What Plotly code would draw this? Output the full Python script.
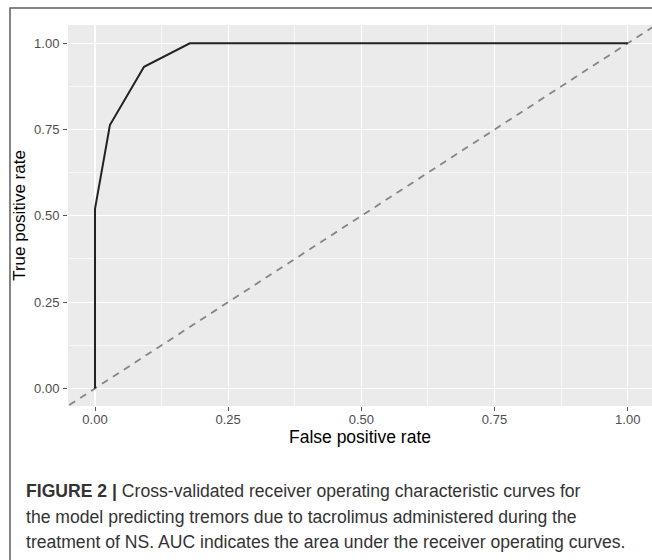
import plotly.graph_objects as go

# ---- data ----
fpr = [0.0, 0.0, 0.028, 0.092, 0.178, 1.0]
tpr = [0.0, 0.52, 0.763, 0.932, 1.0, 1.0]
ref_intercept = 0.0
ref_slope = 1.0
tick_vals = [0.0, 0.25, 0.50, 0.75, 1.00]
tick_text = ["0.00", "0.25", "0.50", "0.75", "1.00"]
x_title = "False positive rate"
y_title = "True positive rate"
caption_lines = [
    "<b>FIGURE 2 |</b> Cross-validated receiver operating characteristic curves for",
    "the model predicting tremors due to tacrolimus administered during the",
    "treatment of NS. AUC indicates the area under the receiver operating curves.",
]

W, H = 652, 560
ML, MR, MT, MB = 68, 0, 25, 154
PW = W - ML - MR
PH = H - MT - MB
XR = [-0.0507, 1.0456]
YR = [-0.051, 1.053]


def px(x):
    return (x - ML) / PW


def py(y):
    return (H - MB - y) / PH


fig = go.Figure()

# reference diagonal over full axis range
ref_x = [XR[0] - 0.1, XR[1] + 0.1]
ref_y = [ref_intercept + ref_slope * v for v in ref_x]
fig.add_trace(go.Scatter(x=ref_x, y=ref_y, mode="lines",
                         line=dict(color="#858585", width=1.8, dash="7px,6px"),
                         hoverinfo="skip", showlegend=False))

fig.add_trace(go.Scatter(x=fpr, y=tpr, mode="lines",
                         line=dict(color="#222222", width=2),
                         showlegend=False))

font_fam = "Liberation Sans, Arial, sans-serif"
axis_common = dict(
    tickmode="array", tickvals=tick_vals, ticktext=tick_text,
    showgrid=True, gridcolor="white", gridwidth=1.2,
    zeroline=False, showline=False,
    ticks="outside", ticklen=4, tickwidth=1, tickcolor="#555555",
    tickfont=dict(family=font_fam, size=13, color="#4d4d4d"),
    minor=dict(dtick=0.125, tick0=0, showgrid=True, gridcolor="white", gridwidth=0.6, ticks=""),
    fixedrange=True,
)

fig.update_layout(
    width=W, height=H,
    margin=dict(l=ML, r=MR, t=MT, b=MB, autoexpand=False),
    paper_bgcolor="white", plot_bgcolor="#ebebeb",
    showlegend=False,
    xaxis=dict(range=XR, title=dict(text=x_title, font=dict(family=font_fam, size=17.5, color="black"), standoff=2),
               ticklabelstandoff=-3, automargin=False, **axis_common),
    yaxis=dict(range=YR, title=dict(text=y_title, font=dict(family=font_fam, size=17, color="black"), standoff=4),
               ticklabelstandoff=1, automargin=False, **axis_common),
)

# frame around figure (top + left visible)
fig.add_shape(type="rect", xref="paper", yref="paper",
              x0=px(10), x1=px(W + 10), y0=py(H + 10), y1=py(8),
              line=dict(color="#5e5e5e", width=1.5), fillcolor="rgba(0,0,0,0)", layer="above")

# caption
cap_y = [491, 517, 542]
for txt, yy in zip(caption_lines, cap_y):
    fig.add_annotation(text=txt, xref="paper", yref="paper", x=px(24), y=py(yy),
                       xanchor="left", yanchor="middle", showarrow=False,
                       font=dict(family=font_fam, size=17.6, color="#333333"))

fig.write_html("out.html",
               config={"displayModeBar": False, "staticPlot": True},
               post_script="document.body.style.margin='0';document.body.style.overflow='hidden';")
